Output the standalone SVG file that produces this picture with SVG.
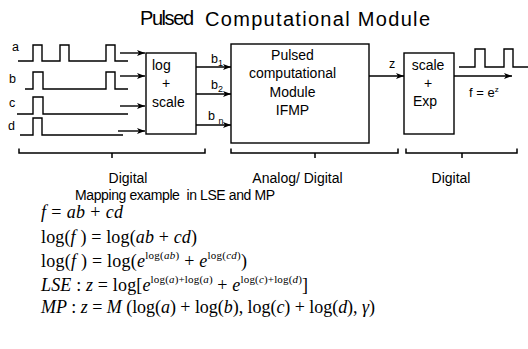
<svg xmlns="http://www.w3.org/2000/svg" width="528" height="349" viewBox="0 0 528 349">
<style>
.sans{font-family:"Liberation Sans",Arial,sans-serif;fill:#000}
.t{font-size:20px}
.n{font-size:14px}
.s{font-size:12.5px}
.m{font-family:"Liberation Serif","Times New Roman",serif;font-size:18px;fill:#000}
.sup{font-size:11px}
.i{font-style:italic}
.box{fill:#fff;stroke:#000;stroke-width:1.4}
.w{fill:none;stroke:#000;stroke-width:1.4}
.ar{fill:none;stroke:#000;stroke-width:1.4;marker-end:url(#ah)}
.br{fill:none;stroke:#000;stroke-width:1.5}
</style>
<defs>
<marker id="ah" viewBox="0 0 8 6" refX="8" refY="3" markerWidth="8" markerHeight="6" markerUnits="userSpaceOnUse" orient="auto">
<path d="M0,0 L8,3 L0,6 L2,3 z" fill="#000"/>
</marker>
</defs>
<rect width="528" height="349" fill="#fff"/>

<g id="title">
<text class="sans t" x="140" y="25" textLength="54" lengthAdjust="spacing">Pulsed</text>
<text class="sans t" x="205" y="26" textLength="225" lengthAdjust="spacing">Computational Module</text>
</g>

<g id="inputs">
<text class="sans s" x="12" y="51">a</text>
<text class="sans s" x="9" y="83">b</text>
<text class="sans s" x="9" y="107">c</text>
<text class="sans s" x="8" y="130">d</text>
<path class="w" d="M18,61 H33 V45 H42 V61 H60 V45 H69 V61 H106 V45 H115 V61 H128"/>
<path class="w" d="M25,89 H33 V72 H43 V89 H106 V72 H115 V89 H128"/>
<path class="w" d="M17,114 H33 V97 H43 V114 H128"/>
<path class="w" d="M20,135 H33 V118 H42 V135 H123"/>
</g>

<g id="logscale">
<rect class="box" x="146" y="53" width="50" height="81"/>
<text class="sans n" x="152" y="70">log</text>
<text class="sans n" x="166" y="88" text-anchor="middle">+</text>
<text class="sans n" x="152" y="107">scale</text>
</g>

<g id="ifmp">
<rect class="box" x="231" y="44" width="138" height="99"/>
<text class="sans n" x="292.5" y="60" text-anchor="middle">Pulsed</text>
<text class="sans n" x="292.5" y="78" text-anchor="middle">computational</text>
<text class="sans n" x="292.5" y="97" text-anchor="middle">Module</text>
<text class="sans n" x="292.5" y="115" text-anchor="middle">IFMP</text>
</g>

<g id="scaleexp">
<rect class="box" x="404" y="53" width="50" height="81"/>
<text class="sans n" x="428" y="70" text-anchor="middle">scale</text>
<text class="sans n" x="428" y="88" text-anchor="middle">+</text>
<text class="sans n" x="425" y="106" text-anchor="middle">Exp</text>
</g>

<g id="output">
<path class="w" d="M459,67 H475 V49 H485 V67 H504 V49 H513 V67 H528"/>
<text class="sans" font-size="13" x="469" y="97">f = e<tspan font-size="8" dy="-5">z</tspan></text>
</g>

<g id="connectors">
<line class="ar" x1="120" y1="53" x2="145" y2="53"/>
<line class="ar" x1="120" y1="76" x2="145" y2="76"/>
<line class="ar" x1="120" y1="106" x2="145" y2="106"/>
<line class="ar" x1="118" y1="131" x2="145" y2="131"/>
<line class="ar" x1="196" y1="67" x2="231" y2="67"/>
<line class="ar" x1="196" y1="94" x2="231" y2="94"/>
<line class="ar" x1="196" y1="125" x2="231" y2="125"/>
<line class="ar" x1="369" y1="76" x2="404" y2="76"/>
<line class="ar" x1="454" y1="76" x2="512" y2="76"/>
<text class="sans s" x="211" y="63">b<tspan font-size="9" dy="3">1</tspan></text>
<text class="sans s" x="211" y="89">b<tspan font-size="9" dy="3">2</tspan></text>
<text class="sans s" x="208" y="120">b <tspan font-size="9" dy="4">n</tspan></text>
<text class="sans s" x="389" y="68">z</text>
</g>

<g id="brackets">
<path class="br" d="M19,148.5 V153 H205 V148.5 M112,153 V158"/>
<path class="br" d="M231,148.5 V153 H398 V148.5 M315,153 V158"/>
<path class="br" d="M406,148.5 V153 H517 V148.5 M462,153 V158"/>
<text class="sans n" x="128" y="182.5" text-anchor="middle">Digital</text>
<text class="sans n" x="297.5" y="182.5" text-anchor="middle">Analog/ Digital</text>
<text class="sans n" x="451" y="182.5" text-anchor="middle">Digital</text>
<text class="sans n" x="75" y="199.5" textLength="200" lengthAdjust="spacing" xml:space="preserve">Mapping example  in LSE and MP</text>
</g>

<g id="formulas">
<text class="m" x="41" y="218" textLength="82" lengthAdjust="spacing" xml:space="preserve"><tspan class="i">f</tspan> = <tspan class="i">ab</tspan> + <tspan class="i">cd</tspan></text>
<text class="m" x="41" y="243" textLength="156" lengthAdjust="spacing" xml:space="preserve">log(<tspan class="i">f</tspan> ) = log(<tspan class="i">ab</tspan> + <tspan class="i">cd</tspan>)</text>
<text class="m" x="41" y="267" textLength="206" lengthAdjust="spacing" xml:space="preserve">log(<tspan class="i">f</tspan> ) = log(<tspan class="i">e</tspan><tspan class="sup" dy="-8">log(<tspan class="i">ab</tspan>)</tspan><tspan dy="8"> + </tspan><tspan class="i">e</tspan><tspan class="sup" dy="-8">log(<tspan class="i">cd</tspan>)</tspan><tspan dy="8">)</tspan></text>
<text class="m" x="41" y="291" textLength="267" lengthAdjust="spacing" xml:space="preserve"><tspan class="i">LSE</tspan> : <tspan class="i">z</tspan> = log[<tspan class="i">e</tspan><tspan class="sup" dy="-8">log(<tspan class="i">a</tspan>)+log(<tspan class="i">a</tspan>)</tspan><tspan dy="8"> + </tspan><tspan class="i">e</tspan><tspan class="sup" dy="-8">log(<tspan class="i">c</tspan>)+log(<tspan class="i">d</tspan>)</tspan><tspan dy="8">]</tspan></text>
<text class="m" x="41" y="313" textLength="334" lengthAdjust="spacing" xml:space="preserve"><tspan class="i">MP</tspan> : <tspan class="i">z</tspan> = <tspan class="i">M</tspan> (log(<tspan class="i">a</tspan>) + log(<tspan class="i">b</tspan>), log(<tspan class="i">c</tspan>) + log(<tspan class="i">d</tspan>), <tspan class="i">γ</tspan>)</text>
</g>
</svg>
